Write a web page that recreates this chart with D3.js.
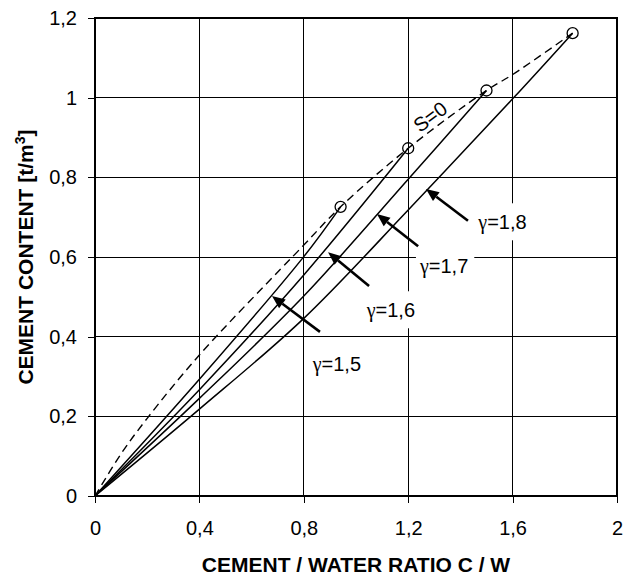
<!DOCTYPE html>
<html>
<head>
<meta charset="utf-8">
<script src="https://cdn.jsdelivr.net/npm/d3@7"></script>
<style>
  html, body { margin: 0; padding: 0; background: #fff; }
  svg { display: block; }
</style>
</head>
<body>
<svg id="chart" width="624" height="578"></svg>
<script>
// Axis ticks
const xTickValues = [0, 0.4, 0.8, 1.2, 1.6, 2];
const xTickLabels = ["0", "0,4", "0,8", "1,2", "1,6", "2"];
const yTickValues = [0, 0.2, 0.4, 0.6, 0.8, 1.0, 1.2];
const yTickLabels = ["0", "0,2", "0,4", "0,6", "0,8", "1", "1,2"];

// Saturated paste curve (S = 0): C/W ratio and cement content [t/m3]
const satRatio   = [0, 0.1,   0.2,   0.4,   0.8,   0.941, 1.2,   1.5,   1.6,   1.83];
const satContent = [0, 0.106, 0.195, 0.354, 0.630, 0.726, 0.873, 1.018, 1.058, 1.162];

// Curves of constant density gamma
const gammaNames = ["1,5", "1,6", "1,7", "1,8"];
const ratio15   = [0, 0.4,   0.8,   0.941];
const content15 = [0, 0.293, 0.601, 0.726];
const ratio16   = [0, 0.4,   0.8,   1.2];
const content16 = [0, 0.267, 0.555, 0.873];
const ratio17   = [0, 0.4,   0.8,   1.2,   1.5];
const content17 = [0, 0.245, 0.502, 0.795, 1.018];
const ratio18   = [0, 0.4,   0.8,   1.2,   1.6,   1.83];
const content18 = [0, 0.218, 0.446, 0.718, 0.997, 1.162];

// Pointer arrows (tail -> tip) and label anchors, in data units
const arrowTail = [[0.862, 0.412], [1.050, 0.527], [1.238, 0.627], [1.429, 0.691]];
const arrowTip  = [[0.678, 0.502], [0.893, 0.612], [1.080, 0.708], [1.268, 0.771]];
const labelAt   = [[0.834, 0.3146], [1.041, 0.4487], [1.245, 0.5606], [1.4686, 0.6696]];
const satLabelAt = [1.284, 0.952];

const svg = d3.select("#chart");
const W = 624, H = 578;
const m = { left: 95, right: 617, top: 18, bottom: 496 };

svg.append("rect").attr("width", W).attr("height", H).attr("fill", "#fff");

const x = d3.scaleLinear().domain([0, 2]).range([m.left, m.right]);
const y = d3.scaleLinear().domain([0, 1.2]).range([m.bottom, m.top]);

const FONT = "'Liberation Sans', Arial, sans-serif";
const SERIF = "'Liberation Serif', 'Times New Roman', serif";

// Layers
const gridG = svg.append("g");
const boxG = svg.append("g");
const axisG = svg.append("g");
const markG = svg.append("g");
const textG = svg.append("g");

// Grid
gridG.attr("stroke", "#000").attr("stroke-width", 1).attr("shape-rendering", "crispEdges");
gridG.selectAll("line.v").data(xTickValues.slice(1, -1)).join("line")
  .attr("class", "v")
  .attr("x1", d => x(d)).attr("x2", d => x(d))
  .attr("y1", m.top).attr("y2", m.bottom);
gridG.selectAll("line.h").data(yTickValues.slice(1, -1)).join("line")
  .attr("class", "h")
  .attr("x1", m.left).attr("x2", m.right)
  .attr("y1", d => y(d)).attr("y2", d => y(d));

// Axes
const xAxis = d3.axisBottom(x).tickValues(xTickValues)
  .tickFormat((d, i) => xTickLabels[i]).tickSize(7).tickPadding(32);
const yAxis = d3.axisLeft(y).tickValues(yTickValues)
  .tickFormat((d, i) => yTickLabels[i]).tickSize(7).tickPadding(11);

const gx = axisG.append("g").attr("transform", `translate(0,${m.bottom})`).call(xAxis);
const gy = axisG.append("g").attr("transform", `translate(${m.left},0)`).call(yAxis);
[gx, gy].forEach(g => {
  g.select(".domain").remove();
  g.selectAll(".tick line").attr("stroke", "#000").attr("stroke-width", 1)
    .attr("shape-rendering", "crispEdges");
  g.selectAll(".tick text").attr("fill", "#000")
    .style("font-family", FONT).style("font-size", "20px");
});
gx.selectAll(".tick text").attr("dy", "0");

// Plot frame
axisG.append("rect")
  .attr("x", m.left).attr("y", m.top)
  .attr("width", m.right - m.left).attr("height", m.bottom - m.top)
  .attr("fill", "none").attr("stroke", "#000").attr("stroke-width", 2);

const line = d3.line().x(d => x(d[0])).y(d => y(d[1])).curve(d3.curveCatmullRom.alpha(0.5));
const zip = (a, b) => a.map((v, i) => [v, b[i]]);

// S = 0 dashed curve
markG.append("path")
  .attr("d", line(zip(satRatio, satContent)))
  .attr("fill", "none").attr("stroke", "#000").attr("stroke-width", 1.4)
  .attr("stroke-dasharray", "8,5");

// Gamma curves
const gammaSeries = [
  zip(ratio15, content15),
  zip(ratio16, content16),
  zip(ratio17, content17),
  zip(ratio18, content18)
];
markG.append("g").selectAll("path").data(gammaSeries).join("path")
  .attr("d", d => line(d))
  .attr("fill", "none").attr("stroke", "#000").attr("stroke-width", 1.5);

// End markers
markG.append("g").selectAll("circle").data(gammaSeries.map(s => s[s.length - 1])).join("circle")
  .attr("cx", d => x(d[0])).attr("cy", d => y(d[1])).attr("r", 5.5)
  .attr("fill", "none").attr("stroke", "#000").attr("stroke-width", 1.3);

// Arrows
arrowTail.forEach((t, i) => {
  const x0 = x(t[0]), y0 = y(t[1]);
  const x1 = x(arrowTip[i][0]), y1 = y(arrowTip[i][1]);
  const ang = Math.atan2(y1 - y0, x1 - x0);
  const L = 13, Wd = 5.5;
  const bx = x1 - L * Math.cos(ang), by = y1 - L * Math.sin(ang);
  markG.append("line")
    .attr("x1", x0).attr("y1", y0).attr("x2", bx).attr("y2", by)
    .attr("stroke", "#000").attr("stroke-width", 2.6);
  const px = -Math.sin(ang), py = Math.cos(ang);
  markG.append("path")
    .attr("d", `M${x1},${y1}L${bx + px * Wd},${by + py * Wd}L${bx - px * Wd},${by - py * Wd}Z`)
    .attr("fill", "#000");
});

// Gamma labels with white boxes behind them
gammaNames.forEach((name, i) => {
  const tx = x(labelAt[i][0]), ty = y(labelAt[i][1]);
  const t = textG.append("text")
    .attr("x", tx).attr("y", ty)
    .style("font-family", FONT).style("font-size", "20px").attr("fill", "#000");
  t.append("tspan").style("font-family", SERIF).text("\u03b3");
  t.append("tspan").text("=" + name);
  const b = t.node().getBBox();
  boxG.append("rect")
    .attr("x", b.x - 3).attr("y", ty - 26)
    .attr("width", b.width + 9).attr("height", 37)
    .attr("fill", "#fff");
});

// S = 0 label
textG.append("text")
  .attr("transform", `translate(${x(satLabelAt[0])},${y(satLabelAt[1])}) rotate(-37)`)
  .attr("text-anchor", "middle").attr("dominant-baseline", "central")
  .style("font-family", FONT).style("font-size", "20px").attr("fill", "#000")
  .text("S=0");

// Axis titles
textG.append("text")
  .attr("x", (m.left + m.right) / 2).attr("y", 572)
  .attr("text-anchor", "middle")
  .style("font-family", FONT).style("font-size", "21px").style("font-weight", "bold")
  .text("CEMENT / WATER RATIO C / W");

const yt = textG.append("text")
  .attr("transform", `translate(33,${(m.top + m.bottom) / 2}) rotate(-90)`)
  .attr("text-anchor", "middle")
  .style("font-family", FONT).style("font-size", "21px").style("font-weight", "bold");
yt.append("tspan").text("CEMENT CONTENT [t/m");
yt.append("tspan").attr("dy", "-8").style("font-size", "14px").text("3");
yt.append("tspan").attr("dy", "8").text("]");
</script>
</body>
</html>
